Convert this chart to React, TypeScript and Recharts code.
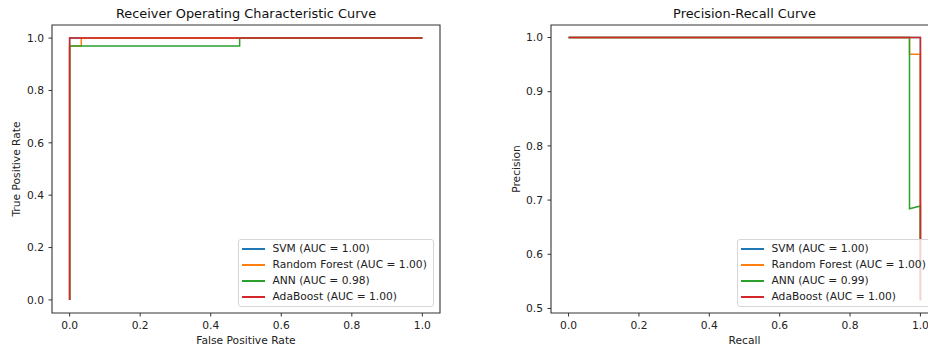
import React from 'react';
import { LineChart, Line, XAxis, YAxis, ReferenceArea } from 'recharts';

const seriesNames = ['SVM', 'Random Forest', 'ANN', 'AdaBoost'];
const seriesColors = ['#1f77b4', '#ff7f0e', '#2ca02c', '#d62728'];
const rocAuc = ['1.00', '1.00', '0.98', '1.00'];
const prAuc = ['1.00', '1.00', '0.99', '1.00'];

// ROC curves (false positive rate, true positive rate)
const svmFpr = [0, 0, 1];
const svmTpr = [0, 1, 1];
const rfFpr = [0, 0, 0.033, 0.033, 1];
const rfTpr = [0, 0.97, 0.97, 1, 1];
const annFpr = [0, 0, 0.482, 0.482, 1];
const annTpr = [0, 0.97, 0.97, 1, 1];
const adaFpr = [0, 0, 1];
const adaTpr = [0, 1, 1];

// Precision-recall curves (recall, precision)
const svmRecall = [1, 1, 0];
const svmPrecision = [0.515, 1, 1];
const rfRecall = [1, 1, 0.969, 0.969, 0];
const rfPrecision = [0.515, 0.969, 0.969, 1, 1];
const annRecall = [1, 1, 0.969, 0.969, 0];
const annPrecision = [0.515, 0.689, 0.684, 1, 1];
const adaRecall = [1, 1, 0];
const adaPrecision = [0.515, 1, 1];

const xTicks = [0, 0.2, 0.4, 0.6, 0.8, 1.0];
const rocYTicks = [0, 0.2, 0.4, 0.6, 0.8, 1.0];
const prYTicks = [0.5, 0.6, 0.7, 0.8, 0.9, 1.0];

const zip = (xs: number[], ys: number[]) => xs.map((x, i) => ({ x, y: ys[i] }));

const rocSeries = [zip(svmFpr, svmTpr), zip(rfFpr, rfTpr), zip(annFpr, annTpr), zip(adaFpr, adaTpr)];
const prSeries = [
  zip(svmRecall, svmPrecision),
  zip(rfRecall, rfPrecision),
  zip(annRecall, annPrecision),
  zip(adaRecall, adaPrecision),
];

const FONT = '"DejaVu Sans", sans-serif';
const TICK_FS = 10.7;
const AXIS_COLOR = '#333';

type PanelProps = {
  left: number;
  width: number;
  yAxisWidth: number;
  xLabel: string;
  yLabel: string;
  xDomain: [number, number];
  yDomain: [number, number];
  yTicks: number[];
  series: { x: number; y: number }[][];
};

function Panel(p: PanelProps) {
  const tickStyle = { fontFamily: FONT, fontSize: TICK_FS, fill: '#222' };
  return (
    <div style={{ position: 'absolute', left: p.left, top: 0 }}>
      <LineChart width={p.width} height={352} margin={{ top: 25, right: 20, bottom: 0, left: 0 }}>
        <XAxis
          type="number"
          dataKey="x"
          domain={p.xDomain}
          ticks={xTicks}
          allowDataOverflow
          height={39}
          tickSize={3.5}
          tickMargin={5}
          axisLine={false}
          tickLine={{ stroke: AXIS_COLOR }}
          tick={tickStyle}
          tickFormatter={(v: number) => v.toFixed(1)}
          label={{
            value: p.xLabel,
            position: 'insideBottom',
            offset: 8,
            style: { fontFamily: FONT, fontSize: TICK_FS, fill: '#222' },
          }}
        />
        <YAxis
          type="number"
          domain={p.yDomain}
          ticks={p.yTicks}
          allowDataOverflow
          width={p.yAxisWidth}
          tickSize={3.5}
          tickMargin={4.5}
          axisLine={false}
          tickLine={{ stroke: AXIS_COLOR }}
          tick={tickStyle}
          tickFormatter={(v: number) => v.toFixed(1)}
          label={{
            value: p.yLabel,
            angle: -90,
            position: 'insideLeft',
            offset: 16.5,
            style: { fontFamily: FONT, fontSize: TICK_FS, fill: '#222', textAnchor: 'middle' },
          }}
        />
        {p.series.map((d, i) => (
          <Line
            key={seriesNames[i]}
            data={d}
            dataKey="y"
            name={seriesNames[i]}
            type="linear"
            stroke={seriesColors[i]}
            strokeWidth={1.5}
            dot={false}
            activeDot={false}
            isAnimationActive={false}
          />
        ))}
        <ReferenceArea
          x1={p.xDomain[0]}
          x2={p.xDomain[1]}
          y1={p.yDomain[0]}
          y2={p.yDomain[1]}
          fill="none"
          fillOpacity={0}
          stroke={AXIS_COLOR}
          strokeWidth={1.1}
          ifOverflow="visible"
        />
      </LineChart>
    </div>
  );
}

function LegendBox({ left, top, aucs }: { left: number; top: number; aucs: string[] }) {
  return (
    <div
      style={{
        position: 'absolute',
        left,
        top,
        width: 196,
        height: 68,
        boxSizing: 'border-box',
        border: '1px solid #d6d6d6',
        borderRadius: 3,
        background: 'rgba(255,255,255,0.8)',
        fontFamily: FONT,
        fontSize: TICK_FS,
        color: '#222',
      }}
    >
      {seriesNames.map((n, i) => (
        <div
          key={n}
          style={{
            position: 'absolute',
            left: 0,
            top: 1 + 16 * i,
            height: 16,
            lineHeight: '16px',
            whiteSpace: 'nowrap',
          }}
        >
          <div
            style={{
              position: 'absolute',
              left: 3,
              top: 7.25,
              width: 22.6,
              height: 1.5,
              background: seriesColors[i],
            }}
          />
          <span style={{ position: 'absolute', left: 33.5, top: 0 }}>{`${n} (AUC = ${aucs[i]})`}</span>
        </div>
      ))}
    </div>
  );
}

export default function App() {
  return (
    <div
      style={{
        position: 'absolute',
        left: 0,
        top: 0,
        width: 928,
        height: 352,
        overflow: 'hidden',
        background: '#fff',
      }}
    >
      <Panel
        left={0}
        width={460}
        yAxisWidth={52}
        xLabel="False Positive Rate"
        yLabel="True Positive Rate"
        xDomain={[-0.05, 1.05]}
        yDomain={[-0.05, 1.05]}
        yTicks={rocYTicks}
        series={rocSeries}
      />
      <Panel
        left={500}
        width={458}
        yAxisWidth={51}
        xLabel="Recall"
        yLabel="Precision"
        xDomain={[-0.05, 1.05]}
        yDomain={[0.49166, 1.02306]}
        yTicks={prYTicks}
        series={prSeries}
      />
      <LegendBox left={238} top={239} aucs={rocAuc} />
      <LegendBox left={737} top={239} aucs={prAuc} />
      <svg
        width={928}
        height={352}
        style={{ position: 'absolute', left: 0, top: 0, pointerEvents: 'none' }}
      >
        <text x={246} y={18.3} textAnchor="middle" fontFamily={FONT} fontSize={12.9} fill="#111">
          Receiver Operating Characteristic Curve
        </text>
        <text x={744.5} y={18.3} textAnchor="middle" fontFamily={FONT} fontSize={12.9} fill="#111">
          Precision-Recall Curve
        </text>
      </svg>
    </div>
  );
}
